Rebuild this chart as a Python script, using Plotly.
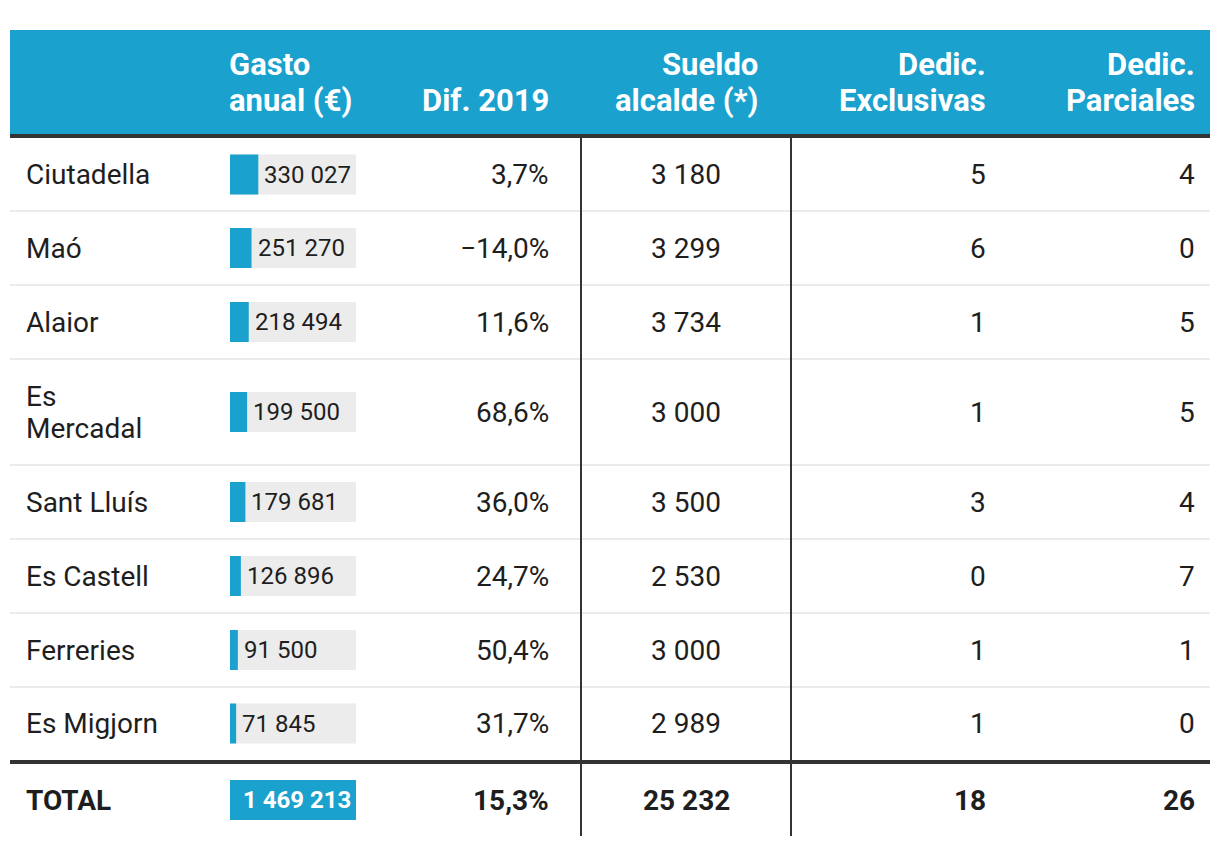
import plotly.graph_objects as go

# ---- data ----
municipios = ["Ciutadella", "Maó", "Alaior", "Es<br>Mercadal", "Sant Lluís",
              "Es Castell", "Ferreries", "Es Migjorn"]
gasto = [330027, 251270, 218494, 199500, 179681, 126896, 91500, 71845]
dif_2019 = [3.7, -14.0, 11.6, 68.6, 36.0, 24.7, 50.4, 31.7]
sueldo = [3180, 3299, 3734, 3000, 3500, 2530, 3000, 2989]
exclusivas = [5, 6, 1, 1, 3, 0, 1, 1]
parciales = [4, 0, 5, 5, 4, 7, 1, 0]
total_label = "TOTAL"
total_gasto = 1469213
total_dif = 15.3
total_sueldo = 25232
total_excl = 18
total_parc = 26
headers = ["Gasto<br>anual (€)", "Dif. 2019", "Sueldo<br>alcalde (*)",
           "Dedic.<br>Exclusivas", "Dedic.<br>Parciales"]

# ---- layout constants ----
W, H = 1220, 846
BLUE = "#1aa1cd"
DARK = "#333333"
TXT = "#1e1e1e"
FONT = "Roboto"
LEFT, RIGHT = 10, 1210
HEAD_TOP, HEAD_BOT = 30, 134
THICK = 4
row_h = [73, 74, 74, 106, 74, 74, 74, 73]
TOTAL_H = 72
BAR_X0, BAR_W, BAR_H = 230, 126, 40
PAD = 3  # annotation inner padding compensation
X_NAME = 27
X_DIF = 548
X_SUELDO = 686
X_SUELDO_HEAD = 757
X_EXCL = 985
X_PARC = 1194
VLINES = [581, 791]
BODY = 28
HEAD = 31
LABEL = 24
HEAD_LINE_Y = [64.5, 100.5]
BODY_LINE_GAP = 32


def fmt_int(v):
    return f"{v:,}".replace(",", " ")


def fmt_pct(v):
    s = f"{abs(v):.1f}".replace(".", ",") + "%"
    return ("\u2212" + s) if v < 0 else s


# row boundaries
tops = []
y = HEAD_BOT + THICK
for h in row_h:
    tops.append(y)
    y += h
body_end = y
total_top = body_end + THICK
total_bot = total_top + TOTAL_H
centers = [t + h / 2 for t, h in zip(tops, row_h)]
total_c = total_top + TOTAL_H / 2

shapes = []
annotations = []

# header band
shapes.append(dict(type="rect", x0=LEFT, x1=RIGHT, y0=HEAD_TOP, y1=HEAD_BOT,
                   fillcolor=BLUE, line_width=0, layer="below"))
# thick rules
for y0 in (HEAD_BOT, body_end):
    shapes.append(dict(type="rect", x0=LEFT, x1=RIGHT, y0=y0, y1=y0 + THICK,
                       fillcolor=DARK, line_width=0, layer="below"))
# light separators
for t in tops[1:]:
    shapes.append(dict(type="line", x0=LEFT, x1=RIGHT, y0=t, y1=t,
                       line=dict(color="#ebebeb", width=2), layer="below"))
# vertical rules
for vx in VLINES:
    shapes.append(dict(type="line", x0=vx, x1=vx, y0=HEAD_BOT + THICK, y1=total_bot,
                       line=dict(color=DARK, width=2), layer="above"))


def add(x, y, text, anchor, font):
    if anchor == "left":
        x = x - PAD
    elif anchor == "right":
        x = x + PAD
    annotations.append(dict(x=x, y=y, text=text, xanchor=anchor, yanchor="middle",
                            align="left" if anchor == "left" else "right",
                            showarrow=False, xref="x", yref="y", font=font))


def add_lines(x, yc, text, anchor, font, gap):
    lines = text.split("<br>")
    n = len(lines)
    for k, ln in enumerate(lines):
        add(x, yc + (k - (n - 1) / 2) * gap, ln, anchor, font)


# header texts (bottom-aligned lines)
head_font = dict(family=FONT, size=HEAD, color="white", weight="bold")
head_x = [(BAR_X0, "left"), (X_DIF, "right"), (X_SUELDO_HEAD, "right"),
          (X_EXCL, "right"), (X_PARC, "right")]
for (hx, anc), htxt in zip(head_x, headers):
    lines = htxt.split("<br>")
    slots = HEAD_LINE_Y[-len(lines):]
    for ln, hy in zip(lines, slots):
        add(hx, hy, ln, anc, head_font)

body_font = dict(family=FONT, size=BODY, color=TXT)
bold_font = dict(family=FONT, size=BODY, color=TXT, weight="bold")

fracs = [g / total_gasto for g in gasto]
for i, c in enumerate(centers):
    add_lines(X_NAME, c, municipios[i], "left", body_font, BODY_LINE_GAP)
    add(X_DIF, c, fmt_pct(dif_2019[i]), "right", body_font)
    add(X_SUELDO, c, fmt_int(sueldo[i]), "center", body_font)
    add(X_EXCL, c, str(exclusivas[i]), "right", body_font)
    add(X_PARC, c, str(parciales[i]), "right", body_font)
    add(BAR_X0 + fracs[i] * BAR_W + 7, c, fmt_int(gasto[i]), "left",
        dict(family=FONT, size=LABEL, color=TXT))

add(X_NAME, total_c, total_label, "left", bold_font)
add(X_DIF, total_c, fmt_pct(total_dif), "right", bold_font)
add(X_SUELDO, total_c, fmt_int(total_sueldo), "center", bold_font)
add(X_EXCL, total_c, str(total_excl), "right", bold_font)
add(X_PARC, total_c, str(total_parc), "right", bold_font)
add(BAR_X0 + BAR_W - 6, total_c, fmt_int(total_gasto), "right",
    dict(family=FONT, size=LABEL, color="white", weight="bold"))

ys = centers + [total_c]
fig = go.Figure()
# grey background track
fig.add_trace(go.Bar(y=ys[:-1], x=[BAR_W] * len(centers), base=BAR_X0, orientation="h",
                     width=BAR_H, marker=dict(color="#ececec", line_width=0),
                     hoverinfo="skip", showlegend=False))
# value bars
fig.add_trace(go.Bar(y=ys, x=[f * BAR_W for f in fracs] + [BAR_W], base=BAR_X0,
                     orientation="h", width=BAR_H,
                     marker=dict(color=BLUE, line_width=0),
                     hoverinfo="skip", showlegend=False))

fig.update_layout(
    width=W, height=H, margin=dict(l=0, r=0, t=0, b=0),
    paper_bgcolor="white", plot_bgcolor="white", barmode="overlay",
    xaxis=dict(range=[0, W], visible=False, fixedrange=True),
    yaxis=dict(range=[H, 0], visible=False, fixedrange=True),
    shapes=shapes, annotations=annotations,
)
fig.write_html("out.html", config={"displayModeBar": False},
               post_script="document.body.style.margin='0';document.body.style.overflow='hidden';")
